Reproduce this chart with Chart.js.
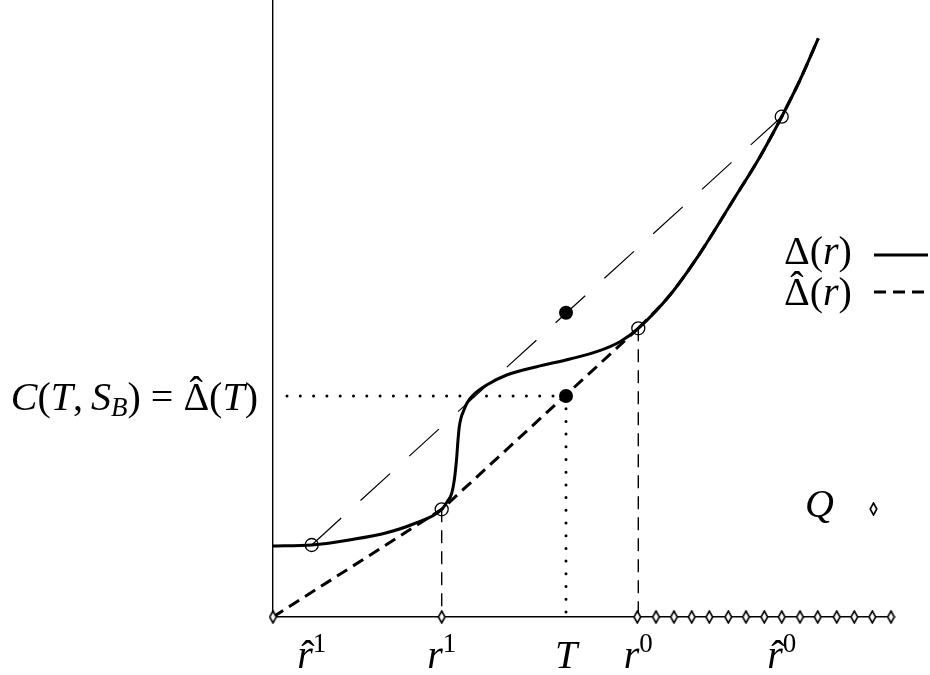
<!DOCTYPE html>
<html>
<head>
<meta charset="utf-8">
<script src="https://cdn.jsdelivr.net/npm/chart.js@4.4.1/dist/chart.umd.min.js"></script>
<style>
  html, body { margin: 0; padding: 0; background: #fff; }
  #wrap { width: 930px; height: 675px; }
</style>
</head>
<body>
<div id="wrap"><canvas id="fig"></canvas></div>
<script>
// ── DATA ────────────────────────────────────
// Δ(r): the solid curve
const deltaR = [0, 0.387, 0.803, 1.137, 1.403, 1.687, 1.74, 1.787, 1.813, 1.835, 1.85, 1.863, 1.88, 1.903, 1.94, 2.003, 2.137, 2.337, 2.637, 2.97, 3.237, 3.47, 3.653, 3.97, 4.27, 4.603, 4.87, 5.087, 5.27, 5.453];
const deltaV = [0.71, 0.72, 0.777, 0.843, 0.93, 1.077, 1.15, 1.237, 1.37, 1.57, 1.77, 1.903, 1.99, 2.053, 2.14, 2.22, 2.32, 2.42, 2.503, 2.58, 2.653, 2.753, 2.887, 3.22, 3.637, 4.17, 4.603, 5.003, 5.37, 5.787];

// Δ̂(r): straight pieces up to r⁰, then it follows Δ
const hullR = [0, 1.687, 3.653];
const hullV = [0, 1.077, 2.887];
const hullJoin = 22; // index in deltaR where Δ̂ meets Δ (r⁰)

// chord between r̂¹ and r̂⁰
const chordR = [0.387, 5.087];
const chordV = [0.72, 5.003];

// hollow circles and filled dots
const openR = [0.387, 1.687, 3.653, 5.087];
const openV = [0.72, 1.077, 2.887, 5.003];
const dotR = [2.93, 2.93];
const dotV = [3.043, 2.21];

// T and C(T, S_B)
const tR = 2.93;
const cT = 2.21;
const dottedStart = 0.14;

// Q grid on the axis
const gridQ = [0, 1.687, 3.643, 3.83, 4.01, 4.187, 4.363, 4.553, 4.73, 4.913, 5.087, 5.27, 5.447, 5.637, 5.813, 5.993, 6.18];

// axis labels
const tickPos = [0.387, 1.687, 2.93, 3.653, 5.087];
const tickBase = ['r', 'r', 'T', 'r', 'r'];
const tickSup = ['1', '1', '', '0', '0'];
const tickHat = [true, false, false, false, true];

const FONT = '"Liberation Serif", "DejaVu Serif", serif';
const SIZE = 40;

// ── HELPERS ──────────────────────────────────
const pts = (xs, ys) => xs.map((x, i) => ({ x, y: ys[i] }));

// narrow white diamond used for the Q markers
function makeDiamond() {
  const c = document.createElement('canvas');
  c.width = 9; c.height = 14;
  const g = c.getContext('2d');
  g.beginPath();
  g.moveTo(4.5, 1); g.lineTo(7.8, 7); g.lineTo(4.5, 13); g.lineTo(1.2, 7);
  g.closePath();
  g.fillStyle = '#fff'; g.fill();
  g.lineWidth = 1.6; g.strokeStyle = '#000'; g.stroke();
  return c;
}
const diamond = makeDiamond();

function fontOf(r) {
  return (r.it ? 'italic ' : '') + (r.size || SIZE) + 'px ' + FONT;
}

// draw a row of text runs (mixed italic / sub / sup / hat)
function drawRuns(ctx, runs, x, y, align) {
  let total = 0;
  runs.forEach(r => {
    ctx.font = fontOf(r);
    r.w = ctx.measureText(r.t).width;
    total += r.w + (r.dx || 0);
  });
  let cx = align === 'right' ? x - total : align === 'center' ? x - total / 2 : x;
  runs.forEach(r => {
    ctx.font = fontOf(r);
    ctx.fillText(r.t, cx, y + (r.dy || 0));
    if (r.hat) {
      const m = ctx.measureText(r.t);
      const top = y - m.actualBoundingBoxAscent;
      ctx.font = (r.size || SIZE) + 'px ' + FONT;
      const hm = ctx.measureText('\u02C6');
      const hy = top - 2 - hm.actualBoundingBoxDescent;
      ctx.fillText('\u02C6', cx + r.w / 2 - hm.width / 2 + (r.it ? 3 : 0), hy);
    }
    cx += r.w + (r.dx || 0);
  });
}

// ── TEXT + LEGEND PLUGIN ─────────────────────
const annotations = {
  id: 'annotations',
  afterDraw(chart) {
    const ctx = chart.ctx;
    const xs = chart.scales.x, ys = chart.scales.y;
    ctx.save();
    ctx.fillStyle = '#000';
    ctx.textBaseline = 'alphabetic';

    // axis labels
    tickPos.forEach((p, i) => {
      const runs = [{ t: tickBase[i], it: true, hat: tickHat[i] }];
      if (tickSup[i]) runs.push({ t: tickSup[i], size: 27, dy: -16, dx: 0 });
      drawRuns(ctx, runs, xs.getPixelForValue(p), 668, 'center');
    });

    // C(T, S_B) = Δ̂(T)
    drawRuns(ctx, [
      { t: 'C', it: true }, { t: '(' }, { t: 'T', it: true }, { t: ',', dx: 8 },
      { t: 'S', it: true }, { t: 'B', it: true, size: 27, dy: 6 }, { t: ') = ' },
      { t: '\u0394', hat: true }, { t: '(' }, { t: 'T', it: true }, { t: ')' }
    ], 258, ys.getPixelForValue(cT) + 14, 'right');

    // legend
    drawRuns(ctx, [{ t: '\u0394' }, { t: '(' }, { t: 'r', it: true }, { t: ')' }], 784, 264, 'left');
    drawRuns(ctx, [{ t: '\u0394', hat: true }, { t: '(' }, { t: 'r', it: true }, { t: ')' }], 784, 305, 'left');
    ctx.strokeStyle = '#000';
    ctx.lineWidth = 3;
    ctx.beginPath(); ctx.moveTo(874, 255); ctx.lineTo(928, 255); ctx.stroke();
    ctx.setLineDash([12, 7]);
    ctx.beginPath(); ctx.moveTo(874, 292); ctx.lineTo(928, 292); ctx.stroke();
    ctx.setLineDash([]);

    // Q marker key
    drawRuns(ctx, [{ t: 'Q', it: true }], 805, 517, 'left');
    ctx.drawImage(diamond, Math.round(873 - diamond.width / 2), Math.round(509 - diamond.height / 2));
    ctx.restore();
  }
};

// ── CHART ────────────────────────────────────
const axisOpts = (hide) => ({
  type: 'linear',
  ticks: { display: false },
  grid: { display: false },
  border: { display: true, color: '#000', width: 1.4 },
  afterFit: hide
});

new Chart(document.getElementById('fig'), {
  type: 'scatter',
  data: {
    datasets: [
      {
        label: 'Q',
        data: gridQ.map(x => ({ x, y: 0 })),
        pointStyle: diamond,
        pointRadius: 6,
        showLine: false,
        clip: false
      },
      {
        data: pts(dotR, dotV),
        pointStyle: 'circle',
        pointRadius: 7,
        backgroundColor: '#000',
        borderColor: '#000',
        borderWidth: 0,
        showLine: false,
        clip: false
      },
      {
        data: pts(openR, openV),
        pointStyle: 'circle',
        pointRadius: 6.5,
        backgroundColor: 'rgba(0,0,0,0)',
        borderColor: '#000',
        borderWidth: 1.3,
        showLine: false,
        clip: false
      },
      {
        label: 'Δ(r)',
        data: pts(deltaR, deltaV),
        showLine: true,
        borderColor: '#000',
        borderWidth: 3,
        cubicInterpolationMode: 'monotone',
        pointRadius: 0,
        clip: false
      },
      {
        label: 'Δ̂(r)',
        data: pts(hullR, hullV),
        showLine: true,
        borderColor: '#000',
        borderWidth: 3,
        borderDash: [12, 7],
        pointRadius: 0,
        clip: false
      },
      {
        data: pts(deltaR.slice(hullJoin), deltaV.slice(hullJoin)),
        showLine: true,
        borderColor: '#000',
        borderWidth: 3,
        borderDash: [12, 7],
        cubicInterpolationMode: 'monotone',
        pointRadius: 0,
        clip: false
      },
      {
        data: pts(chordR, chordV),
        showLine: true,
        borderColor: '#000',
        borderWidth: 1.2,
        borderDash: [40, 26],
        pointRadius: 0,
        clip: false
      },
      {
        data: [{ x: hullR[1], y: hullV[1] }, { x: hullR[1], y: 0 }],
        showLine: true,
        borderColor: '#000',
        borderWidth: 1.4,
        borderDash: [13, 8],
        pointRadius: 0,
        clip: false
      },
      {
        data: [{ x: hullR[2], y: hullV[2] }, { x: hullR[2], y: 0 }],
        showLine: true,
        borderColor: '#000',
        borderWidth: 1.4,
        borderDash: [13, 8],
        pointRadius: 0,
        clip: false
      },
      {
        data: [{ x: dottedStart, y: cT }, { x: tR, y: cT }],
        showLine: true,
        borderColor: '#000',
        borderWidth: 3,
        borderDash: [0, 13.3],
        borderCapStyle: 'round',
        pointRadius: 0,
        clip: false
      },
      {
        data: [{ x: tR, y: cT }, { x: tR, y: 0 }],
        showLine: true,
        borderColor: '#000',
        borderWidth: 3,
        borderDash: [0, 12.7],
        borderCapStyle: 'round',
        pointRadius: 0,
        clip: false
      }
    ]
  },
  options: {
    responsive: true,
    maintainAspectRatio: false,
    animation: false,
    events: [],
    layout: { autoPadding: false, padding: { left: 273, right: 38, top: 0, bottom: 58 } },
    plugins: { legend: { display: false }, tooltip: { enabled: false } },
    scales: {
      x: { ...axisOpts(s => { s.height = 0; }), min: 0, max: 6.19 },
      y: { ...axisOpts(s => { s.width = 0; }), min: 0, max: 6.17 }
    }
  },
  plugins: [annotations]
});
</script>
</body>
</html>
